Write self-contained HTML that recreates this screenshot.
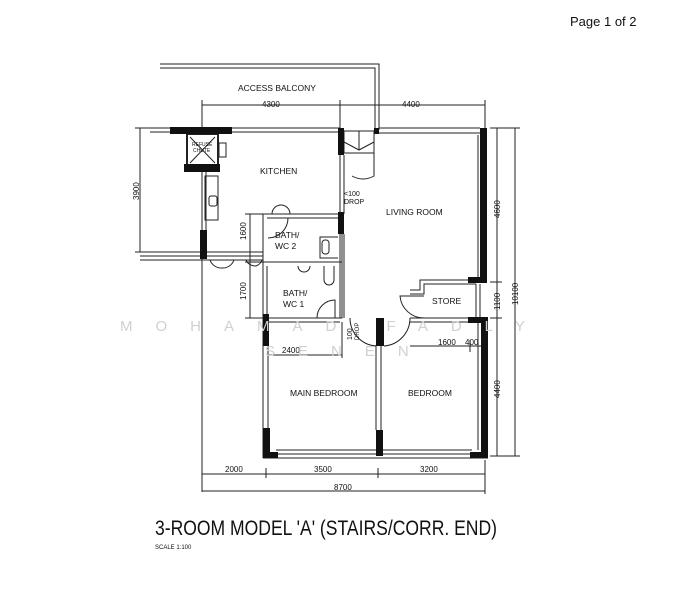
<!DOCTYPE html>
<html><head><style>
html,body{margin:0;padding:0;background:#fff;}
svg{display:block;}
text{font-family:"Liberation Sans",sans-serif;fill:#111;}
.s{font-family:"Liberation Sans Narrow","Liberation Sans",sans-serif;}
</style></head><body>
<svg width="686" height="600" viewBox="0 0 686 600" xmlns="http://www.w3.org/2000/svg">
<rect width="686" height="600" fill="#fff"/>
<text x="570" y="26" font-size="13">Page 1 of 2</text>

<g stroke="#222" stroke-width="1" fill="none">
<!-- access balcony railing -->
<polyline points="160,64 379,64 379,130"/>
<polyline points="160,68 375,68 375,130"/>
<!-- top dim -->
<line x1="202" y1="105" x2="485" y2="105"/>
<line x1="202" y1="100" x2="202" y2="132"/>
<line x1="340" y1="100" x2="340" y2="128"/>
<line x1="485" y1="100" x2="485" y2="128"/>
<!-- kitchen top wall thin -->
<line x1="150" y1="128" x2="340" y2="128"/>
<line x1="150" y1="132" x2="340" y2="132"/>
<!-- living top wall -->
<line x1="379" y1="128" x2="480" y2="128"/>
<line x1="379" y1="133" x2="480" y2="133"/>
<!-- stair -->
<rect x="344" y="131" width="30" height="22"/>
<polyline points="344,142 359,150 374,142"/>
<line x1="359" y1="131" x2="359" y2="150"/>
<path d="M374,153 L374,176 A22,22 0 0 1 352,176" />
<!-- left dim 3900 -->
<line x1="140" y1="128" x2="140" y2="252"/>
<line x1="135" y1="128" x2="150" y2="128"/>
<line x1="135" y1="252" x2="150" y2="252"/>
<!-- corridor lines -->
<line x1="140" y1="252" x2="263" y2="252"/>
<line x1="140" y1="256" x2="263" y2="256"/>
<line x1="140" y1="260" x2="263" y2="260"/>
<!-- kitchen left wall -->
<line x1="202" y1="172" x2="202" y2="230"/>
<line x1="206" y1="172" x2="206" y2="230"/>
<rect x="205" y="176" width="13" height="44"/>
<rect x="209" y="196" width="8" height="10" rx="2"/>
<line x1="202" y1="258" x2="202" y2="492"/>
<!-- kitchen doors -->
<path d="M210,260 A12,12 0 0 0 222,268 M234,260 A12,12 0 0 1 222,268"/>
<path d="M246,260 A10,10 0 0 0 256,266 M262,260 A10,10 0 0 1 256,266"/>
<!-- kitchen/living partition -->
<line x1="340" y1="155" x2="340" y2="214"/>
<line x1="344" y1="155" x2="344" y2="214"/>
<!-- refuse chute -->
<rect x="187" y="134" width="31" height="32" stroke-width="2"/>
<line x1="190" y1="137" x2="215" y2="163"/><line x1="215" y1="137" x2="190" y2="163"/>
<rect x="219" y="143" width="7" height="14"/>
<!-- bath 2 -->
<rect x="263" y="214" width="79" height="48"/>
<line x1="267" y1="218" x2="338" y2="218"/>
<path d="M268,218 L288,218 A20,20 0 0 1 268,238"/>
<path d="M338,237 L320,237 L320,258 L338,258"/>
<rect x="322" y="240" width="7" height="14" rx="3"/>
<path d="M272,214 A9,9 0 0 1 290,214"/>
<!-- bath 1 -->
<rect x="263" y="262" width="79" height="56"/>
<line x1="267" y1="266" x2="267" y2="316"/>
<path d="M298,266 A6,6 0 0 0 310,266"/>
<path d="M324,266 L324,280 A5,5 0 0 0 334,280 L334,266"/>
<path d="M317,318 A18,18 0 0 1 335,300 L335,318"/>
<!-- left dims bath -->
<line x1="250" y1="214" x2="250" y2="318"/>
<line x1="245" y1="214" x2="263" y2="214"/>
<line x1="245" y1="262" x2="263" y2="262"/>
<line x1="245" y1="318" x2="263" y2="318"/>
<!-- living room left wall -->
<line x1="340" y1="234" x2="340" y2="318"/>
<line x1="344" y1="234" x2="344" y2="318"/>
<!-- bedroom doors -->
<path d="M350,318 A28,28 0 0 0 376,346"/>
<path d="M384,346 A28,28 0 0 0 410,318"/>
<!-- bedroom top wall -->
<line x1="263" y1="318" x2="340" y2="318"/>
<line x1="263" y1="322" x2="340" y2="322"/>
<line x1="410" y1="318" x2="480" y2="318"/>
<line x1="410" y1="322" x2="480" y2="322"/>
<!-- store -->
<polyline points="480,280 420,280 420,290 410,290"/>
<polyline points="476,284 424,284 424,294 410,294"/>
<line x1="476" y1="284" x2="476" y2="318"/>
<line x1="480" y1="284" x2="480" y2="318"/>
<path d="M424,318 A24,24 0 0 1 400,296 L424,296"/>
<!-- right walls -->
<line x1="478" y1="135" x2="478" y2="278"/>
<line x1="478" y1="322" x2="478" y2="450"/>
<!-- bedrooms walls -->
<line x1="263" y1="318" x2="263" y2="458"/>
<line x1="268" y1="345" x2="268" y2="430"/>
<line x1="376" y1="345" x2="376" y2="430"/>
<line x1="381" y1="345" x2="381" y2="430"/>
<line x1="276" y1="450" x2="472" y2="450"/>
<line x1="276" y1="454" x2="472" y2="454"/>
<line x1="263" y1="458" x2="488" y2="458"/>
<!-- internal dims -->
<line x1="268" y1="355" x2="342" y2="355"/>
<line x1="342" y1="322" x2="342" y2="358"/>
<line x1="410" y1="346" x2="485" y2="346"/>
<line x1="470" y1="340" x2="470" y2="352"/>
<!-- right dims -->
<line x1="497" y1="128" x2="497" y2="456"/>
<line x1="515" y1="128" x2="515" y2="456"/>
<line x1="490" y1="128" x2="520" y2="128"/>
<line x1="490" y1="282" x2="502" y2="282"/>
<line x1="490" y1="318" x2="502" y2="318"/>
<line x1="490" y1="456" x2="520" y2="456"/>
<!-- bottom dims -->
<line x1="202" y1="474" x2="485" y2="474"/>
<line x1="202" y1="491" x2="485" y2="491"/>
<line x1="266" y1="468" x2="266" y2="478"/>
<line x1="378" y1="468" x2="378" y2="478"/>
<line x1="485" y1="460" x2="485" y2="494"/>
</g>

<g fill="#111">
<rect x="170" y="127" width="62" height="7"/>
<rect x="184" y="164" width="36" height="8"/>
<rect x="338" y="128" width="6" height="27"/>
<rect x="374" y="128" width="5" height="6"/>
<rect x="200" y="230" width="7" height="29"/>
<rect x="338" y="212" width="6" height="22"/>
<rect x="480" y="128" width="7" height="155"/>
<rect x="468" y="277" width="19" height="6"/>
<rect x="468" y="317" width="20" height="6"/>
<rect x="481" y="317" width="7" height="141"/>
<rect x="263" y="314" width="6" height="32"/>
<rect x="376" y="318" width="8" height="28"/>
<rect x="263" y="428" width="7" height="30"/>
<rect x="263" y="452" width="15" height="6"/>
<rect x="376" y="430" width="7" height="26"/>
<rect x="470" y="452" width="18" height="6"/>
</g>

<g font-size="8.5" class="s">
<text x="238" y="91">ACCESS BALCONY</text>
<text x="262" y="107" font-size="8">4300</text>
<text x="402" y="107" font-size="8">4400</text>
<text x="260" y="174">KITCHEN</text>
<text x="386" y="215">LIVING ROOM</text>
<text x="275" y="238">BATH/</text><text x="275" y="249">WC 2</text>
<text x="283" y="296">BATH/</text><text x="283" y="307">WC 1</text>
<text x="432" y="304">STORE</text>
<text x="290" y="396">MAIN BEDROOM</text>
<text x="408" y="396">BEDROOM</text>
<text x="344" y="196" font-size="7">&lt;100</text><text x="344" y="204" font-size="7">DROP</text>
<text x="282" y="353" font-size="8">2400</text>
<text x="438" y="345" font-size="8">1600</text><text x="465" y="345" font-size="8">400</text>
<text x="225" y="472" font-size="8">2000</text>
<text x="314" y="472" font-size="8">3500</text>
<text x="420" y="472" font-size="8">3200</text>
<text x="334" y="490" font-size="8">8700</text>
<text x="192" y="146" font-size="5">REFUSE</text><text x="193" y="152" font-size="5">CHUTE</text>
</g>
<g font-size="8" class="s">
<text transform="translate(139,200) rotate(-90)">3900</text>
<text transform="translate(246,240) rotate(-90)">1600</text>
<text transform="translate(246,300) rotate(-90)">1700</text>
<text transform="translate(500,218) rotate(-90)">4600</text>
<text transform="translate(500,310) rotate(-90)">1100</text>
<text transform="translate(500,398) rotate(-90)">4400</text>
<text transform="translate(518,305) rotate(-90)">10100</text>
<text transform="translate(352,340) rotate(-90)" font-size="7">100</text>
<text transform="translate(359,340) rotate(-90)" font-size="6">DROP</text>
</g>

<g fill="#ccc" font-size="15">
<text x="120" y="331" style="fill:#d0d0d0;letter-spacing:23px">MOHAMAD FADLY</text>
<text x="265" y="356" style="fill:#d0d0d0;letter-spacing:23px">SENEN</text>
</g>

<text x="155" y="535" font-size="21" class="s" style="font-weight:normal" textLength="342" lengthAdjust="spacingAndGlyphs">3-ROOM MODEL 'A' (STAIRS/CORR. END)</text>
<text x="155" y="549" font-size="6" class="s">SCALE  1:100</text>
</svg>
</body></html>
